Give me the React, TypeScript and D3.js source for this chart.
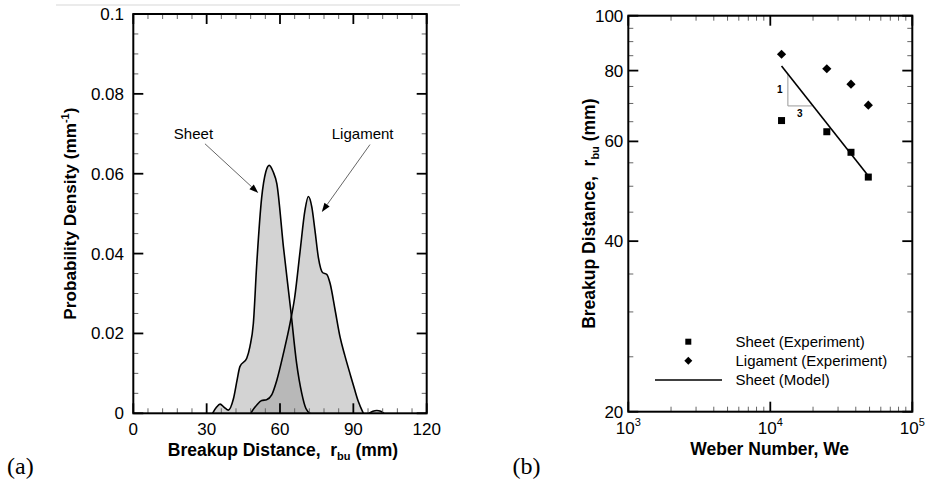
import React from "react";
import * as d3 from "d3";

// ---------- Panel (a) data ----------
const sheetX = [32.4, 34.0, 35.5, 37.2, 38.9, 40.9, 42.5, 43.6, 46.4, 47.7, 49.1, 50.5, 52.5, 54.2, 55.6, 57.2, 58.7, 61.4, 64.4, 66.8, 68.9, 70.6, 72.3];
const sheetY = [0, 0.0015, 0.0023, 0.0015, 0.0008, 0.0035, 0.0085, 0.0117, 0.0138, 0.0167, 0.0225, 0.0375, 0.054, 0.0605, 0.0621, 0.0605, 0.0575, 0.0417, 0.0258, 0.0125, 0.005, 0.0012, 0];
const ligX = [48, 50.5, 52.5, 54.5, 56.6, 58.7, 61.4, 64.1, 66, 68.2, 70.2, 71.6, 73.0, 74.3, 75.7, 77.5, 79.1, 80.5, 82.5, 84.6, 86.5, 88.6, 90.5, 92, 94.1];
const ligY = [0, 0.0021, 0.0032, 0.0034, 0.0046, 0.0083, 0.015, 0.0225, 0.029, 0.0405, 0.0508, 0.0543, 0.0517, 0.0458, 0.039, 0.0352, 0.0348, 0.0325, 0.026, 0.019, 0.0145, 0.01, 0.006, 0.003, 0];
const ligTailX = [96.5, 98, 99.6, 101.2, 102.5];
const ligTailY = [0, 0.0005, 0.0007, 0.0005, 0];
const xTicksA = [0, 30, 60, 90, 120];
const yTicksA = [0, 0.02, 0.04, 0.06, 0.08, 0.1];
const yTickLabelsA = ["0", "0.02", "0.04", "0.06", "0.08", "0.1"];

// ---------- Panel (b) data ----------
const weExp = [12000, 25000, 37000, 49000];
const sheetR = [65.3, 62.4, 57.4, 51.9];
const ligamentR = [85.5, 80.6, 75.7, 69.5];
const modelWe = [12000, 48000];
const modelR = [81.5, 52.5];
const triWe = [13300, 19600];
const triR = [79.1, 69.3];
const yTicksB = [20, 40, 60, 80, 100];
const xTicksB = [1000, 10000, 100000];
const xTickExpB = ["3", "4", "5"];
const legendLabels = ["Sheet (Experiment)", "Ligament (Experiment)", "Sheet (Model)"];

const SANS = "'Liberation Sans', Arial, Helvetica, sans-serif";
const SERIF = "'Liberation Serif', 'Times New Roman', serif";

function PanelA() {
  const L = 133.3, R = 426.7, T = 14, B = 413.3;
  const x = d3.scaleLinear().domain([0, 120]).range([L, R]);
  const y = d3.scaleLinear().domain([0, 0.1]).range([B, T]);
  const area = (xs: number[], ys: number[]) =>
    d3.area<number>().x((_, i) => x(xs[i])).y0(y(0)).y1((d) => y(d)).curve(d3.curveMonotoneX)(ys) || "";
  const line = (xs: number[], ys: number[]) =>
    d3.line<number>().x((_, i) => x(xs[i])).y((d) => y(d)).curve(d3.curveMonotoneX)(ys) || "";
  const minorX = d3.range(0, 121, 6).filter((v) => v % 30 !== 0);
  const minorY = d3.range(0, 0.1001, 0.005).filter((v) => Math.abs(v / 0.02 - Math.round(v / 0.02)) > 1e-6);
  const arrows = [
    { x1: 29.3, y1: 0.0675, x2: 51.1, y2: 0.0552 },
    { x1: 96.8, y1: 0.0673, x2: 77.1, y2: 0.0504 },
  ];
  return (
    <g>
      <line x1={56} x2={460} y1={5} y2={5} stroke="#e4e4e4" strokeWidth={1.5} />
      {[
        [sheetX, sheetY],
        [ligX, ligY],
        [ligTailX, ligTailY],
      ].map(([xs, ys], i) => (
        <path key={"a" + i} d={area(xs, ys)} fill="#909090" fillOpacity={0.4} stroke="none" />
      ))}
      {[
        [sheetX, sheetY],
        [ligX, ligY],
        [ligTailX, ligTailY],
      ].map(([xs, ys], i) => (
        <path key={"l" + i} d={line(xs, ys)} fill="none" stroke="#000" strokeWidth={1.6} />
      ))}
      {/* minor ticks */}
      {minorX.map((v) => (
        <g key={"mx" + v} stroke="#666" strokeWidth={1}>
          <line x1={x(v)} x2={x(v)} y1={B} y2={B - 5} />
          <line x1={x(v)} x2={x(v)} y1={T} y2={T + 5} />
        </g>
      ))}
      {minorY.map((v) => (
        <g key={"my" + v} stroke="#666" strokeWidth={1}>
          <line x1={L} x2={L + 5} y1={y(v)} y2={y(v)} />
          <line x1={R} x2={R - 5} y1={y(v)} y2={y(v)} />
        </g>
      ))}
      {xTicksA.map((v) => (
        <g key={"Mx" + v} stroke="#000" strokeWidth={1.8}>
          <line x1={x(v)} x2={x(v)} y1={B} y2={B - 10} />
          <line x1={x(v)} x2={x(v)} y1={T} y2={T + 10} />
        </g>
      ))}
      {yTicksA.map((v) => (
        <g key={"My" + v} stroke="#000" strokeWidth={1.8}>
          <line x1={L} x2={L + 10} y1={y(v)} y2={y(v)} />
          <line x1={R} x2={R - 10} y1={y(v)} y2={y(v)} />
        </g>
      ))}
      <rect x={L} y={T} width={R - L} height={B - T} fill="none" stroke="#000" strokeWidth={2} />
      {xTicksA.map((v) => (
        <text key={"tx" + v} x={x(v)} y={435} textAnchor="middle" fontFamily={SANS} fontSize={17}>
          {v}
        </text>
      ))}
      {yTicksA.map((v, i) => (
        <text key={"ty" + v} x={124} y={y(v)} dy="0.35em" textAnchor="end" fontFamily={SANS} fontSize={17}>
          {yTickLabelsA[i]}
        </text>
      ))}
      <text x={283} y={456} textAnchor="middle" fontFamily={SANS} fontSize={17.5} fontWeight="bold">
        Breakup Distance,{"\u00a0\u00a0"}r
        <tspan fontSize={11} dy={4}>bu</tspan>
        <tspan dy={-4}>{" (mm)"}</tspan>
      </text>
      <text
        transform={`translate(76,${(T + B) / 2}) rotate(-90)`}
        textAnchor="middle"
        fontFamily={SANS}
        fontSize={17.2}
        fontWeight="bold"
      >
        Probability Density (mm
        <tspan fontSize={11} dy={-7}>-1</tspan>
        <tspan dy={7}>)</tspan>
      </text>
      {arrows.map((a, i) => {
        const x1 = x(a.x1), y1 = y(a.y1), x2 = x(a.x2), y2 = y(a.y2);
        const ang = Math.atan2(y2 - y1, x2 - x1);
        const len = 9, w = 3.2;
        const bx = x2 - len * Math.cos(ang), by = y2 - len * Math.sin(ang);
        const px = -Math.sin(ang) * w, py = Math.cos(ang) * w;
        return (
          <g key={"ar" + i}>
            <line x1={x1} y1={y1} x2={bx} y2={by} stroke="#666" strokeWidth={1} />
            <path d={`M${x2},${y2}L${bx + px},${by + py}L${bx - px},${by - py}Z`} fill="#000" />
          </g>
        );
      })}
      <text x={x(24.6)} y={y(0.07)} dy="0.35em" textAnchor="middle" fontFamily={SANS} fontSize={15}>
        Sheet
      </text>
      <text x={x(93.8)} y={y(0.07)} dy="0.35em" textAnchor="middle" fontFamily={SANS} fontSize={15}>
        Ligament
      </text>
      <text x={7} y={473.5} fontFamily={SERIF} fontSize={24}>
        (a)
      </text>
    </g>
  );
}

function PanelB() {
  const L = 628.3, R = 912.3, T = 15.7, B = 411.7;
  const x = d3.scaleLog().domain([1000, 100000]).range([L, R]);
  const y = d3.scaleLog().domain([20, 100]).range([B, T]);
  const minorX = [1000, 10000].flatMap((d) => d3.range(2, 10).map((k) => k * d));
  const minorY = d3.range(25, 100, 5).filter((v) => v % 20 !== 0);
  const modelPath = d3.line<number>().x((_, i) => x(modelWe[i])).y((d) => y(d))(modelR) || "";
  const sq = 7, dm = 4.6;
  return (
    <g>
      {minorX.map((v) => (
        <g key={"mx" + v} stroke="#666" strokeWidth={1}>
          <line x1={x(v)} x2={x(v)} y1={B} y2={B - 5} />
          <line x1={x(v)} x2={x(v)} y1={T} y2={T + 5} />
        </g>
      ))}
      {minorY.map((v) => (
        <g key={"my" + v} stroke="#666" strokeWidth={1}>
          <line x1={L} x2={L + 5} y1={y(v)} y2={y(v)} />
          <line x1={R} x2={R - 5} y1={y(v)} y2={y(v)} />
        </g>
      ))}
      {xTicksB.map((v) => (
        <g key={"Mx" + v} stroke="#000" strokeWidth={1.8}>
          <line x1={x(v)} x2={x(v)} y1={B} y2={B - 10} />
          <line x1={x(v)} x2={x(v)} y1={T} y2={T + 10} />
        </g>
      ))}
      {yTicksB.map((v) => (
        <g key={"My" + v} stroke="#000" strokeWidth={1.8}>
          <line x1={L} x2={L + 10} y1={y(v)} y2={y(v)} />
          <line x1={R} x2={R - 10} y1={y(v)} y2={y(v)} />
        </g>
      ))}
      <rect x={L} y={T} width={R - L} height={B - T} fill="none" stroke="#000" strokeWidth={2} />
      {/* slope triangle */}
      <path
        d={`M${x(triWe[0])},${y(triR[0])}L${x(triWe[0])},${y(triR[1])}L${x(triWe[1])},${y(triR[1])}`}
        fill="none"
        stroke="#999"
        strokeWidth={1}
      />
      <text x={x(triWe[0]) - 8} y={(y(triR[0]) + y(triR[1])) / 2} dy="0.35em" textAnchor="middle" fontFamily={SANS} fontSize={10} fontWeight="bold">
        1
      </text>
      <text x={(x(triWe[0]) + x(triWe[1])) / 2} y={y(triR[1]) + 8} dy="0.35em" textAnchor="middle" fontFamily={SANS} fontSize={10} fontWeight="bold">
        3
      </text>
      <path d={modelPath} fill="none" stroke="#000" strokeWidth={1.6} />
      {weExp.map((w, i) => (
        <rect key={"s" + i} x={x(w) - sq / 2} y={y(sheetR[i]) - sq / 2} width={sq} height={sq} fill="#000" />
      ))}
      {weExp.map((w, i) => {
        const cx = x(w), cy = y(ligamentR[i]);
        return <path key={"d" + i} d={`M${cx},${cy - dm}L${cx + dm},${cy}L${cx},${cy + dm}L${cx - dm},${cy}Z`} fill="#000" />;
      })}
      {/* legend */}
      <rect x={688.3 - 3} y={341.7 - 3} width={6} height={6} fill="#000" />
      <path d={`M688.3,${360.7 - 4}L${688.3 + 4},360.7L688.3,${360.7 + 4}L${688.3 - 4},360.7Z`} fill="#000" />
      <line x1={655} x2={722} y1={380} y2={380} stroke="#000" strokeWidth={1.6} />
      {legendLabels.map((t, i) => (
        <text key={t} x={735.5} y={[341.7, 360.7, 380][i]} dy="0.35em" fontFamily={SANS} fontSize={15}>
          {t}
        </text>
      ))}
      {yTicksB.map((v) => (
        <text key={"ty" + v} x={623.3} y={y(v)} dy="0.35em" textAnchor="end" fontFamily={SANS} fontSize={17}>
          {v}
        </text>
      ))}
      {xTicksB.map((v, i) => (
        <text key={"tx" + v} x={x(v)} y={434} textAnchor="middle" fontFamily={SANS} fontSize={17}>
          10
          <tspan fontSize={11} dy={-8}>{xTickExpB[i]}</tspan>
        </text>
      ))}
      <text x={769.7} y={455} textAnchor="middle" fontFamily={SANS} fontSize={17.5} fontWeight="bold">
        Weber Number, We
      </text>
      <text
        transform={`translate(595,${(T + B) / 2}) rotate(-90)`}
        textAnchor="middle"
        fontFamily={SANS}
        fontSize={17.5}
        fontWeight="bold"
      >
        Breakup Distance,{"\u00a0\u00a0"}r
        <tspan fontSize={11} dy={4}>bu</tspan>
        <tspan dy={-4}>{" (mm)"}</tspan>
      </text>
      <text x={512.5} y={473.5} fontFamily={SERIF} fontSize={24}>
        (b)
      </text>
    </g>
  );
}

export default function App() {
  return (
    <div style={{ position: "fixed", left: 0, top: 0, width: 929, height: 485, background: "#fff" }}>
      <svg width={929} height={485} viewBox="0 0 929 485" style={{ display: "block" }}>
        <rect width={929} height={485} fill="#fff" />
        <PanelA />
        <PanelB />
      </svg>
    </div>
  );
}
